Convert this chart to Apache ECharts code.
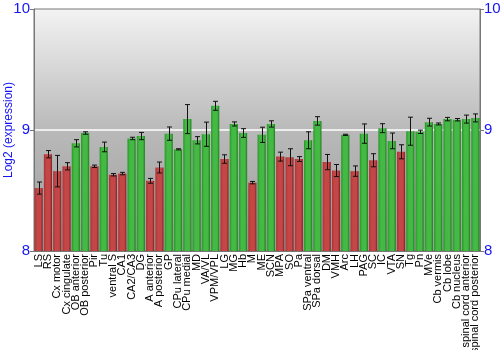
<!DOCTYPE html>
<html>
<head>
<meta charset="utf-8">
<script src="https://cdn.jsdelivr.net/npm/echarts@6/dist/echarts.min.js"></script>
<style>
  html, body { margin: 0; padding: 0; background: #fff; }
  #chart { width: 500px; height: 350px; }
</style>
</head>
<body>
<div id="chart"></div>
<script>
// Brain regions along the x axis
const regions = [
  'LS', 'RS', 'Cx motor', 'Cx cingulate', 'OB anterior', 'OB posterior', 'Pir', 'Tu',
  'ventral S', 'CA1', 'CA2/CA3', 'DG', 'A anterior', 'A posterior', 'GP', 'CPu lateral',
  'CPu medial', 'MD', 'VA/VL', 'VPM/VPL', 'LG', 'MG', 'Hb', 'M', 'ME', 'SCN', 'MPA', 'SO',
  'Pa', 'SPa ventral', 'SPa dorsal', 'DM', 'VMH', 'Arc', 'LH', 'PAG', 'SC', 'IC', 'VTA',
  'SN', 'Tg', 'Pn', 'MVe', 'Cb vermis', 'Cb lobe', 'Cb nucleus', 'spinal cord anterior',
  'spinal cord posterior'
];

// Mean log2 expression per region
const expression = [
  8.52, 8.80, 8.66, 8.70, 8.89, 8.975, 8.70, 8.86,
  8.63, 8.64, 8.93, 8.95, 8.58, 8.69, 8.97, 8.84,
  9.09, 8.915, 8.965, 9.20, 8.76, 9.05, 8.975, 8.565, 8.96, 9.05, 8.78, 8.775,
  8.76, 8.915, 9.075, 8.735, 8.665, 8.96, 8.66, 8.97, 8.75, 9.015, 8.91,
  8.82, 8.99, 8.985, 9.065, 9.05, 9.09, 9.085, 9.09,
  9.10
];

// Standard error per region
const stdError = [
  0.05, 0.03, 0.13, 0.03, 0.03, 0.01, 0.01, 0.04,
  0.01, 0.01, 0.01, 0.03, 0.02, 0.045, 0.055, 0.005,
  0.12, 0.03, 0.10, 0.037, 0.035, 0.017, 0.036, 0.01, 0.063, 0.026, 0.037, 0.07,
  0.02, 0.07, 0.035, 0.063, 0.05, 0.005, 0.043, 0.08, 0.054, 0.037, 0.065,
  0.058, 0.116, 0.014, 0.032, 0.008, 0.014, 0.01, 0.033,
  0.033
];

// Group flag per region: 1 = green group, 0 = red group
const group = [
  0, 0, 0, 0, 1, 1, 0, 1,
  0, 0, 1, 1, 0, 0, 1, 1,
  1, 1, 1, 1, 0, 1, 1, 0, 1, 1, 0, 0,
  0, 1, 1, 0, 0, 1, 0, 1, 0, 1, 1,
  0, 1, 1, 1, 1, 1, 1, 1,
  1
];

const yTicks = [8, 9, 10];

const blue = '#1414f5';

function barGradient(dark, light, darker) {
  return {
    type: 'linear', x: 0, y: 0, x2: 1, y2: 0,
    colorStops: [
      { offset: 0, color: dark },
      { offset: 0.3, color: light },
      { offset: 0.75, color: light },
      { offset: 1, color: darker }
    ]
  };
}
const redFill = barGradient('#a83434', '#c44646', '#7e2020');
const greenFill = barGradient('#2a962a', '#44b944', '#1c7c1c');

const barData = expression.map((v, i) => ({
  value: v,
  itemStyle: { color: group[i] ? greenFill : redFill }
}));

const errData = expression.map((v, i) => [i, v - stdError[i], v + stdError[i]]);

const chart = echarts.init(document.getElementById('chart'), null, { renderer: 'canvas' });

chart.setOption({
  animation: false,
  grid: {
    left: 34, right: 20, top: 9, bottom: 99,
    containLabel: false,
    outerBoundsMode: 'none',
    show: true,
    borderColor: '#777',
    borderWidth: 1,
    backgroundColor: {
      type: 'linear', x: 0, y: 0, x2: 0, y2: 1,
      colorStops: [
        { offset: 0, color: '#f3f3f3' },
        { offset: 0.5, color: '#b9b9b9' },
        { offset: 1, color: '#9c9c9c' }
      ]
    }
  },
  xAxis: {
    type: 'category',
    data: regions,
    axisLine: { show: true, lineStyle: { color: '#777' } },
    axisTick: { show: false },
    axisLabel: {
      interval: 0,
      rotate: 90,
      color: '#000',
      fontFamily: 'Liberation Sans, Arial, sans-serif',
      fontSize: 11,
      margin: 3
    }
  },
  yAxis: [
    {
      type: 'value',
      min: 8, max: 10, interval: 1,
      name: 'Log2 (expression)',
      nameLocation: 'middle',
      nameGap: 19,
      nameMoveOverlap: false,
      nameTextStyle: { color: blue, fontSize: 12, fontFamily: 'Liberation Sans, Arial, sans-serif' },
      axisLine: { show: true, lineStyle: { color: '#777' } },
      axisTick: { show: true, length: 4, lineStyle: { color: '#777' } },
      axisLabel: {
        color: blue, fontSize: 15, margin: 4,
        fontFamily: 'Liberation Sans, Arial, sans-serif',
        formatter: v => (yTicks.includes(v) ? String(v) : '')
      },
      splitLine: {
        show: true,
        lineStyle: { color: ['rgba(0,0,0,0)', '#ffffff', 'rgba(0,0,0,0)'], width: 1.5 }
      }
    },
    {
      type: 'value',
      position: 'right',
      min: 8, max: 10, interval: 1,
      axisLine: { show: true, lineStyle: { color: '#777' } },
      axisTick: { show: true, length: 4, lineStyle: { color: '#777' } },
      axisLabel: {
        color: blue, fontSize: 15, margin: 4,
        fontFamily: 'Liberation Sans, Arial, sans-serif',
        formatter: v => (yTicks.includes(v) ? String(v) : '')
      },
      splitLine: { show: false }
    }
  ],
  series: [
    {
      type: 'bar',
      data: barData,
      barCategoryGap: '12%'
    },
    {
      type: 'custom',
      data: errData,
      z: 5,
      renderItem: function (params, api) {
        const x = api.value(0);
        const lo = api.coord([x, api.value(1)]);
        const hi = api.coord([x, api.value(2)]);
        const cx = Math.round(lo[0]) + 0.5;
        const cap = 2.5;
        const style = { stroke: '#111', lineWidth: 1 };
        return {
          type: 'group',
          children: [
            { type: 'line', shape: { x1: cx, y1: hi[1], x2: cx, y2: lo[1] }, style },
            { type: 'line', shape: { x1: cx - cap, y1: hi[1], x2: cx + cap, y2: hi[1] }, style },
            { type: 'line', shape: { x1: cx - cap, y1: lo[1], x2: cx + cap, y2: lo[1] }, style }
          ]
        };
      }
    }
  ]
});
</script>
</body>
</html>
